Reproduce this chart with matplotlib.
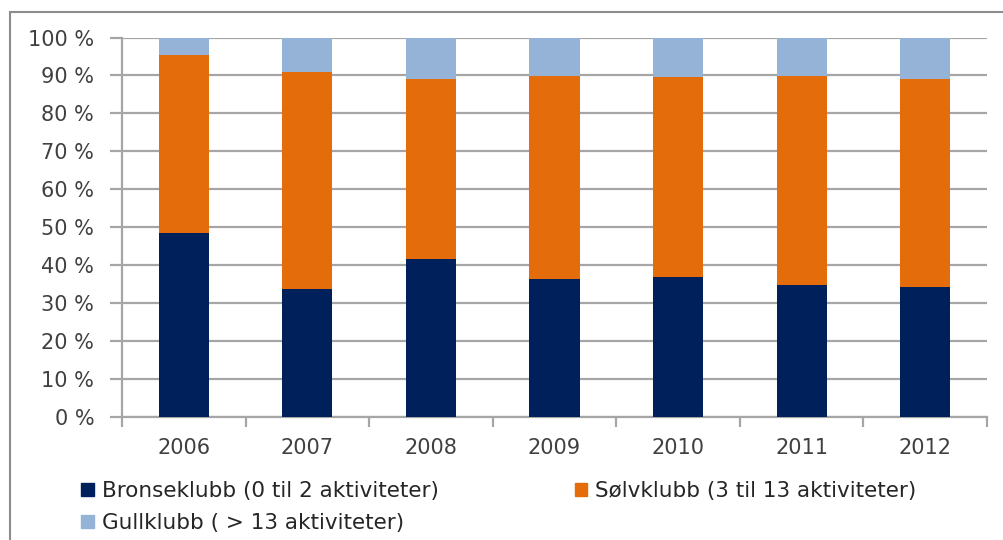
import matplotlib
matplotlib.use("Agg")
import matplotlib.pyplot as plt
from matplotlib.patches import Patch, Rectangle
from matplotlib.ticker import FixedLocator

years = ["2006", "2007", "2008", "2009", "2010", "2011", "2012"]
bronse = [48.4, 33.9, 41.7, 36.3, 36.9, 34.8, 34.4]
solv_top = [95.3, 90.9, 89.0, 89.9, 89.5, 89.9, 89.0]
solv = [t - b for t, b in zip(solv_top, bronse)]
gull = [100 - t for t in solv_top]

labels = ["Bronseklubb (0 til 2 aktiviteter)",
          "Sølvklubb (3 til 13 aktiviteter)",
          "Gullklubb ( > 13 aktiviteter)"]
colors = ["#00205C", "#E46C0A", "#95B3D7"]
yticks = list(range(0, 101, 10))

plt.rcParams['font.family'] = ['DejaVu Sans']
fig = plt.figure(figsize=(10.04, 5.40), dpi=100)
ax = fig.add_axes([122/1004, 1-417.3/540, 865/1004, (417.3-37.5)/540])

x = list(range(len(years)))
w = 0.405
ax.bar(x, bronse, w, color=colors[0], zorder=3)
ax.bar(x, solv, w, bottom=bronse, color=colors[1], zorder=3)
ax.bar(x, gull, w, bottom=solv_top, color=colors[2], zorder=3)

ax.set_xlim(-0.5, len(years) - 0.5)
ax.set_ylim(0, 100)
ax.set_yticks(yticks)
ax.set_yticklabels([f"{v} %" for v in yticks])
ax.set_xticks(x)
ax.set_xticklabels(years)
ax.xaxis.set_minor_locator(FixedLocator([i - 0.5 for i in range(len(years) + 1)]))

gc = "#A6A6A6"
ax.yaxis.grid(True, color=gc, lw=1.6, zorder=0)
for s in ["top", "right"]:
    ax.spines[s].set_visible(False)
for s in ["left", "bottom"]:
    ax.spines[s].set_color(gc)
    ax.spines[s].set_linewidth(1.6)
ax.tick_params(axis='y', length=9, width=1.6, color=gc, labelsize=15, labelcolor="#404040", pad=11)
ax.tick_params(axis='x', which='major', length=0, labelsize=15, labelcolor="#404040", pad=15)
ax.tick_params(axis='x', which='minor', length=7, width=1.6, color=gc)

handles = [Patch(color=colors[0], label=labels[0]),
           Patch(color=colors[2], label=labels[2]),
           Patch(color=colors[1], label=labels[1])]
fig.legend(handles=handles, ncol=2, loc="upper left",
           bbox_to_anchor=(62/1004, 1-462/540), frameon=False,
           fontsize=15.5, labelcolor="#262626", handlelength=0.58, handleheight=0.58,
           handletextpad=0.38, columnspacing=6.3, labelspacing=0.55)

fig.add_artist(Rectangle((9.5/1004, -0.02), 1.0, 1 - 12/540 + 0.02, transform=fig.transFigure,
                         fill=False, edgecolor="#8C8C8C", lw=1.5))

fig.savefig("out.png", dpi=100)
